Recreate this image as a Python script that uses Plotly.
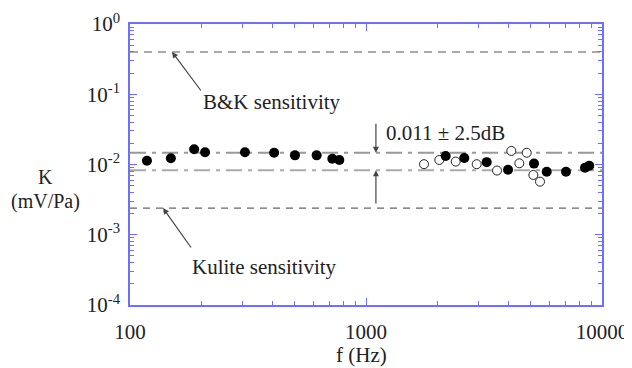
import plotly.graph_objects as go
import math

# Data
filled_f = [118, 149, 187, 208, 307, 408, 500, 618, 720, 771,
            2176, 2609, 3246, 3998, 5151, 5831, 7038, 8472, 8835, 10100]
filled_k = [0.0113, 0.0123, 0.0165, 0.0149, 0.0149, 0.0147, 0.0135, 0.0135, 0.0121, 0.0116,
            0.0132, 0.0124, 0.0108, 0.0084, 0.0103, 0.0079, 0.0079, 0.0090, 0.0096, 0.0079]
open_f = [1761, 2045, 2399, 2945, 3590, 4128, 4797, 4463, 5117, 5461]
open_k = [0.0101, 0.0116, 0.0110, 0.0101, 0.0082, 0.0156, 0.0147, 0.0104, 0.0071, 0.0057]

bk_sens = 0.40
kulite_sens = 0.0024
k_mean = 0.011
k_db = 2.5
k_hi = k_mean * 10 ** (k_db / 20)
k_lo = k_mean / 10 ** (k_db / 20)

x_range = [100, 10000]
x_ticks = [100, 1000, 10000]
x_ticktext = ["100", "1000", "10000"]
y_ticks = [1, 0.1, 0.01, 0.001, 0.0001]
y_ticktext = ["10<sup>0</sup>", "10<sup>-1</sup>", "10<sup>-2</sup>", "10<sup>-3</sup>", "10<sup>-4</sup>"]

FONT = "Liberation Serif"
AX = "#6f6fff"

fig = go.Figure()

def hline(val, color, width, dash):
    fig.add_trace(go.Scatter(x=x_range, y=[val, val], mode="lines",
                             line=dict(color=color, width=width, dash=dash),
                             hoverinfo="skip", showlegend=False))

hline(bk_sens, "#aaaaaa", 2, "8px,6px")
hline(kulite_sens, "#666666", 1.2, "7px,6px")
hline(k_hi, "#999999", 2, "16px,6px,4px,6px")
hline(k_lo, "#aaaaaa", 2, "16px,6px,4px,6px")

fig.add_trace(go.Scatter(x=open_f, y=open_k, mode="markers",
                         marker=dict(symbol="circle", size=9, color="white",
                                     line=dict(color="#222", width=1)),
                         showlegend=False, cliponaxis=False))
fig.add_trace(go.Scatter(x=filled_f, y=filled_k, mode="markers",
                         marker=dict(symbol="circle", size=10, color="black",
                                     line=dict(width=0)),
                         showlegend=False, cliponaxis=False))

tf = dict(family=FONT, size=21, color="#222")
tf2 = dict(family=FONT, size=20, color="#222")

ann = []
# B&K
ann.append(dict(x=2.178, y=math.log10(bk_sens), xref="x", yref="y",
                ax=2.305, ay=-0.968, axref="x", ayref="y",
                showarrow=True, arrowhead=2, arrowsize=1, arrowwidth=1.2, arrowcolor="#444", text=""))
ann.append(dict(x=2.602, y=-1.110, xref="x", yref="y", text="B&K sensitivity",
                xanchor="center", yanchor="middle", showarrow=False, font=tf))
# Kulite
ann.append(dict(x=2.140, y=math.log10(kulite_sens), xref="x", yref="y",
                ax=2.263, ay=-3.203, axref="x", ayref="y",
                showarrow=True, arrowhead=2, arrowsize=1, arrowwidth=1.2, arrowcolor="#444", text=""))
ann.append(dict(x=2.572, y=-3.459, xref="x", yref="y", text="Kulite sensitivity",
                xanchor="center", yanchor="middle", showarrow=False, font=tf))
# band
ann.append(dict(x=3.075, y=-1.552, xref="x", yref="y", text="0.011 ± 2.5dB",
                xanchor="left", yanchor="middle", showarrow=False, font=tf))
ann.append(dict(x=3.042, y=math.log10(k_hi), xref="x", yref="y",
                ax=3.042, ay=-1.40, axref="x", ayref="y",
                showarrow=True, arrowhead=2, arrowsize=1, arrowwidth=1.2, arrowcolor="#444", text=""))
ann.append(dict(x=3.042, y=math.log10(k_lo), xref="x", yref="y",
                ax=3.042, ay=-2.577, axref="x", ayref="y",
                showarrow=True, arrowhead=2, arrowsize=1, arrowwidth=1.2, arrowcolor="#444", text=""))
# axis titles
ann.append(dict(x=-0.180, y=0.454, xref="paper", yref="paper", text="K",
                xanchor="center", yanchor="middle", showarrow=False, font=tf2))
ann.append(dict(x=-0.180, y=0.370, xref="paper", yref="paper", text="(mV/Pa)",
                xanchor="center", yanchor="middle", showarrow=False, font=tf2))
ann.append(dict(x=0.4915, y=-0.178, xref="paper", yref="paper", text="f (Hz)",
                xanchor="center", yanchor="middle", showarrow=False, font=tf))

axis_common = dict(showline=True, linecolor=AX, linewidth=1.5, mirror="ticks",
                   ticks="inside", ticklen=7, tickcolor=AX, tickwidth=1.2,
                   showgrid=False, zeroline=False, automargin=False,
                   tickfont=dict(family=FONT, size=21, color="#222"),
                   minor=dict(ticks="inside", ticklen=4, tickcolor=AX, tickwidth=1, dtick="D1", showgrid=False))

fig.update_xaxes(type="log", range=[2, 4], tickvals=x_ticks, ticktext=x_ticktext,
                 ticklabelstandoff=7, **axis_common)
fig.update_yaxes(type="log", range=[-4, 0], tickvals=y_ticks, ticktext=y_ticktext,
                 ticklabelstandoff=4, **axis_common)

# page body adds an 8px offset at top-left, so the figure is 8px smaller on each axis
fig.update_layout(width=624, height=360, margin=dict(l=122, r=30, t=16, b=63),
                  paper_bgcolor="white", plot_bgcolor="white",
                  annotations=ann, showlegend=False)

fig.write_html("out.html")
